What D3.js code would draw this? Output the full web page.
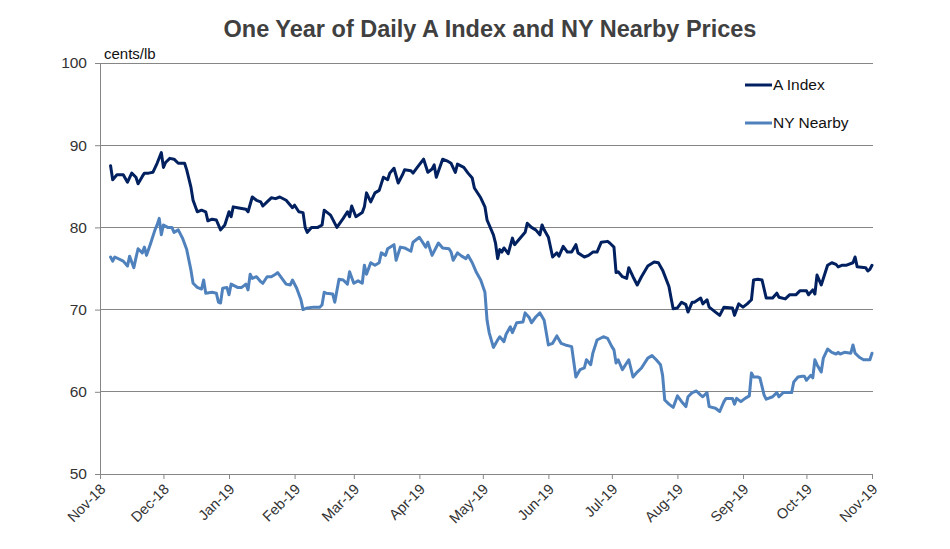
<!DOCTYPE html>
<html><head><meta charset="utf-8">
<script src="https://cdn.jsdelivr.net/npm/d3@7"></script>
<style>
body{margin:0;background:#fff;}
text{font-family:"Liberation Sans",Arial,sans-serif;}
</style></head>
<body><svg id="c" width="950" height="549"></svg>
<script>
const title = "One Year of Daily A Index and NY Nearby Prices";
const unitLabel = "cents/lb";
const seriesNames = ["A Index", "NY Nearby"];
const seriesColors = ["#002060", "#4F81BD"];
const yTicks = [50, 60, 70, 80, 90, 100];
const xTickDates = ["2018-11-01","2018-12-01","2019-01-01","2019-02-01","2019-03-01","2019-04-01","2019-05-01","2019-06-01","2019-07-01","2019-08-01","2019-09-01","2019-10-01","2019-11-01"];

const aDates = ["2018-11-06","2018-11-07","2018-11-09","2018-11-12","2018-11-14","2018-11-16","2018-11-18","2018-11-19","2018-11-21","2018-11-22","2018-11-24","2018-11-26","2018-11-28","2018-11-30","2018-12-01","2018-12-02","2018-12-04","2018-12-06","2018-12-08","2018-12-11","2018-12-12","2018-12-14","2018-12-15","2018-12-17","2018-12-19","2018-12-21","2018-12-22","2018-12-24","2018-12-26","2018-12-28","2018-12-30","2019-01-01","2019-01-02","2019-01-03","2019-01-05","2019-01-09","2019-01-10","2019-01-12","2019-01-14","2019-01-16","2019-01-17","2019-01-19","2019-01-21","2019-01-23","2019-01-25","2019-01-28","2019-01-31","2019-02-01","2019-02-03","2019-02-05","2019-02-06","2019-02-07","2019-02-09","2019-02-12","2019-02-14","2019-02-15","2019-02-18","2019-02-19","2019-02-21","2019-02-24","2019-02-26","2019-02-27","2019-02-28","2019-03-02","2019-03-05","2019-03-06","2019-03-07","2019-03-09","2019-03-11","2019-03-13","2019-03-15","2019-03-17","2019-03-18","2019-03-20","2019-03-22","2019-03-24","2019-03-25","2019-03-28","2019-03-29","2019-03-31","2019-04-03","2019-04-05","2019-04-07","2019-04-08","2019-04-09","2019-04-12","2019-04-14","2019-04-16","2019-04-18","2019-04-19","2019-04-22","2019-04-24","2019-04-26","2019-04-27","2019-04-30","2019-05-02","2019-05-03","2019-05-06","2019-05-07","2019-05-08","2019-05-09","2019-05-10","2019-05-11","2019-05-13","2019-05-15","2019-05-16","2019-05-19","2019-05-21","2019-05-22","2019-05-24","2019-05-26","2019-05-28","2019-05-29","2019-05-30","2019-06-01","2019-06-03","2019-06-05","2019-06-06","2019-06-08","2019-06-10","2019-06-12","2019-06-14","2019-06-15","2019-06-18","2019-06-20","2019-06-22","2019-06-24","2019-06-26","2019-06-29","2019-06-30","2019-07-02","2019-07-03","2019-07-04","2019-07-06","2019-07-08","2019-07-09","2019-07-11","2019-07-13","2019-07-15","2019-07-18","2019-07-21","2019-07-23","2019-07-25","2019-07-28","2019-07-29","2019-07-30","2019-08-01","2019-08-03","2019-08-05","2019-08-06","2019-08-08","2019-08-09","2019-08-12","2019-08-13","2019-08-15","2019-08-16","2019-08-19","2019-08-21","2019-08-23","2019-08-27","2019-08-28","2019-08-30","2019-09-01","2019-09-03","2019-09-05","2019-09-06","2019-09-08","2019-09-10","2019-09-12","2019-09-15","2019-09-17","2019-09-18","2019-09-21","2019-09-23","2019-09-26","2019-09-28","2019-10-01","2019-10-02","2019-10-04","2019-10-05","2019-10-06","2019-10-08","2019-10-11","2019-10-13","2019-10-15","2019-10-16","2019-10-18","2019-10-20","2019-10-23","2019-10-24","2019-10-25","2019-10-29","2019-10-30","2019-10-31","2019-11-01"];
const aValues = [87.5,85.8,86.4,86.4,85.5,86.6,86.1,85.3,86.2,86.6,86.6,86.7,87.8,89.1,87.3,87.9,88.4,88.3,87.8,87.8,87.0,84.9,83.3,81.9,82.1,81.9,80.8,81.0,80.9,79.7,80.3,81.9,81.3,82.5,82.4,82.2,81.9,83.7,83.3,83.1,82.6,83.1,83.6,83.5,83.7,83.3,82.4,82.7,81.9,81.8,80.0,79.4,80.0,80.0,80.3,82.1,81.5,81.0,80.0,81.1,81.9,81.3,82.6,81.3,81.8,82.5,84.2,83.1,84.2,84.5,86.1,85.8,86.6,87.2,85.4,86.4,87.0,86.9,86.6,87.3,88.3,86.7,87.1,87.6,86.1,88.3,88.1,87.8,86.7,87.7,87.3,86.6,86.0,84.8,83.6,82.5,80.9,79.1,78.1,76.2,77.3,77.0,77.5,76.8,78.7,77.9,78.8,79.4,80.5,80.0,79.7,79.1,80.3,79.7,78.8,76.4,76.9,76.5,77.7,77.0,77.0,77.9,76.9,76.4,76.6,77.0,77.0,78.2,78.3,78.1,77.6,74.5,74.6,74.0,73.8,75.1,74.0,73.0,74.0,75.3,75.8,75.7,74.8,72.8,71.4,70.1,70.2,70.9,70.6,69.7,70.9,70.9,71.4,70.7,71.2,70.3,69.7,69.3,70.3,70.2,69.3,70.7,70.3,70.7,71.2,73.6,73.7,73.6,71.4,71.4,72.0,71.5,71.3,71.8,71.8,72.3,72.3,71.8,72.4,71.9,74.2,73.0,75.4,75.7,75.5,75.2,75.4,75.4,75.7,76.4,75.2,75.1,74.7,74.9,75.4];

const nyDates = ["2018-11-06","2018-11-07","2018-11-08","2018-11-12","2018-11-14","2018-11-15","2018-11-17","2018-11-18","2018-11-19","2018-11-21","2018-11-22","2018-11-23","2018-11-25","2018-11-27","2018-11-28","2018-11-29","2018-11-30","2018-12-01","2018-12-03","2018-12-05","2018-12-06","2018-12-08","2018-12-10","2018-12-12","2018-12-14","2018-12-15","2018-12-17","2018-12-19","2018-12-20","2018-12-21","2018-12-24","2018-12-26","2018-12-27","2018-12-28","2018-12-29","2018-12-31","2019-01-01","2019-01-02","2019-01-05","2019-01-07","2019-01-09","2019-01-10","2019-01-11","2019-01-12","2019-01-14","2019-01-16","2019-01-17","2019-01-19","2019-01-21","2019-01-23","2019-01-24","2019-01-26","2019-01-28","2019-01-30","2019-01-31","2019-02-02","2019-02-04","2019-02-05","2019-02-07","2019-02-10","2019-02-13","2019-02-14","2019-02-15","2019-02-16","2019-02-19","2019-02-20","2019-02-22","2019-02-24","2019-02-26","2019-02-27","2019-03-01","2019-03-03","2019-03-05","2019-03-06","2019-03-07","2019-03-09","2019-03-11","2019-03-13","2019-03-14","2019-03-16","2019-03-17","2019-03-20","2019-03-21","2019-03-23","2019-03-25","2019-03-28","2019-03-29","2019-04-01","2019-04-04","2019-04-05","2019-04-07","2019-04-10","2019-04-12","2019-04-15","2019-04-16","2019-04-17","2019-04-19","2019-04-21","2019-04-23","2019-04-24","2019-04-26","2019-04-28","2019-04-30","2019-05-02","2019-05-03","2019-05-04","2019-05-06","2019-05-08","2019-05-09","2019-05-11","2019-05-12","2019-05-14","2019-05-15","2019-05-17","2019-05-20","2019-05-21","2019-05-23","2019-05-24","2019-05-26","2019-05-28","2019-05-30","2019-06-01","2019-06-03","2019-06-05","2019-06-07","2019-06-09","2019-06-12","2019-06-14","2019-06-16","2019-06-18","2019-06-19","2019-06-21","2019-06-22","2019-06-24","2019-06-27","2019-06-29","2019-07-01","2019-07-02","2019-07-03","2019-07-04","2019-07-06","2019-07-08","2019-07-09","2019-07-11","2019-07-13","2019-07-15","2019-07-18","2019-07-20","2019-07-22","2019-07-24","2019-07-25","2019-07-26","2019-07-28","2019-07-30","2019-08-01","2019-08-03","2019-08-05","2019-08-06","2019-08-08","2019-08-10","2019-08-12","2019-08-13","2019-08-15","2019-08-16","2019-08-19","2019-08-21","2019-08-23","2019-08-24","2019-08-27","2019-08-28","2019-08-29","2019-08-31","2019-09-02","2019-09-04","2019-09-05","2019-09-06","2019-09-08","2019-09-09","2019-09-11","2019-09-12","2019-09-15","2019-09-17","2019-09-18","2019-09-20","2019-09-22","2019-09-24","2019-09-25","2019-09-27","2019-09-29","2019-09-30","2019-10-01","2019-10-03","2019-10-04","2019-10-05","2019-10-06","2019-10-08","2019-10-09","2019-10-11","2019-10-13","2019-10-15","2019-10-16","2019-10-17","2019-10-19","2019-10-22","2019-10-23","2019-10-24","2019-10-26","2019-10-28","2019-10-31","2019-11-01"];
const nyValues = [76.4,75.9,76.4,75.9,75.3,76.5,75.1,76.3,77.4,76.9,77.6,76.6,78.1,79.7,80.3,81.1,79.1,80.3,80.0,80.0,79.4,79.7,78.7,77.3,74.8,73.2,72.7,72.5,73.6,72.0,72.1,72.0,70.9,70.8,72.6,72.7,71.8,73.1,72.7,72.7,73.1,72.4,74.3,73.8,74.0,73.4,73.2,74.0,74.0,74.3,74.5,73.8,73.1,73.0,73.6,72.6,71.2,70.0,70.2,70.3,70.3,70.6,72.1,72.0,71.9,70.9,73.7,73.6,73.1,74.6,73.2,73.5,73.2,75.4,74.3,75.7,75.4,75.7,76.9,76.6,77.4,77.9,76.0,77.6,77.5,77.1,78.2,78.8,77.6,78.2,76.6,78.1,77.5,77.4,77.0,76.0,76.9,76.5,76.2,76.6,75.7,74.5,73.6,72.1,68.7,67.2,65.4,66.3,66.7,66.1,67.0,67.9,67.2,68.4,68.5,69.6,69.0,68.4,69.1,69.6,68.7,65.7,65.9,66.8,65.9,65.7,65.5,61.8,62.7,62.9,63.9,63.3,64.7,66.3,66.7,66.5,65.5,65.1,63.5,63.9,62.7,63.5,63.9,61.8,62.4,62.9,64.1,64.4,63.9,63.3,62.0,59.0,58.5,58.1,59.5,58.8,58.2,59.4,59.9,60.1,59.6,59.4,59.9,58.2,58.0,57.6,58.8,59.2,59.2,58.5,59.2,58.8,59.2,59.5,62.3,61.8,61.8,61.7,59.6,59.1,59.4,59.9,59.4,59.9,59.9,59.9,61.2,61.8,61.9,61.9,61.4,62.0,61.7,63.9,63.3,62.4,64.1,65.2,64.8,64.6,64.8,64.6,64.8,64.7,65.7,64.7,64.2,63.9,63.9,64.7];

const parse = d3.timeParse("%Y-%m-%d");
const fmt = d3.timeFormat("%b-%y");
const svg = d3.select("#c");
const m = {left:100, right:873, top:63, bottom:474};
const fontFam = "Liberation Sans, Arial, sans-serif";

const x = d3.scaleTime().domain([parse(xTickDates[0]), parse(xTickDates[xTickDates.length-1])]).range([m.left, m.right-1]);
const y = d3.scaleLinear().domain([50,100]).range([m.bottom, m.top]);

// gridlines
svg.append("g").selectAll("line").data(yTicks.filter(v=>v>50)).join("line")
  .attr("x1", m.left).attr("x2", m.right)
  .attr("y1", d=>y(d)).attr("y2", d=>y(d))
  .attr("stroke", "#868686").attr("stroke-width", 1).attr("shape-rendering","crispEdges");

// y axis
const yAxis = svg.append("g").attr("transform", `translate(${m.left},0)`)
  .call(d3.axisLeft(y).tickValues(yTicks).tickSize(5).tickPadding(8));
yAxis.select(".domain").attr("stroke","#868686");
yAxis.selectAll(".tick line").attr("stroke","#868686");
yAxis.selectAll("text").attr("font-size", 15.5).attr("fill","#333").style("font-family", fontFam);

// x axis
const xAxis = svg.append("g").attr("transform", `translate(0,${m.bottom})`)
  .call(d3.axisBottom(x).tickValues(xTickDates.map(parse)).tickFormat(fmt).tickSize(5).tickSizeOuter(0));
xAxis.select(".domain").attr("stroke","#868686");
xAxis.selectAll(".tick line").attr("stroke","#868686");
xAxis.selectAll("text")
  .attr("font-size", 14.5).attr("fill","#333").style("font-family", fontFam)
  .attr("text-anchor","end").attr("dy", null).attr("y", 0).attr("x", 0)
  .attr("transform","translate(6,16) rotate(-45)");

// lines
const line = d3.line().x(d=>x(d[0])).y(d=>y(d[1]));
const series = [
  aDates.map((d,i)=>[parse(d), aValues[i]]),
  nyDates.map((d,i)=>[parse(d), nyValues[i]])
];
series.slice().reverse().forEach((s,ri)=>{
  const i = series.length-1-ri;
  svg.append("path").datum(s).attr("d", line)
    .attr("fill","none").attr("stroke", seriesColors[i]).attr("stroke-width", 3)
    .attr("stroke-linejoin","round").attr("stroke-linecap","round");
});

// title
svg.append("text").attr("x", 490).attr("y", 37).attr("text-anchor","middle")
  .attr("font-size", 23.5).attr("font-weight","bold").attr("fill","#404040").text(title);
svg.append("text").attr("x", 104).attr("y", 59).attr("font-size", 15).attr("fill","#111").text(unitLabel);

// legend
const leg = svg.append("g");
seriesNames.forEach((n,i)=>{
  const ly = 85 + i*38;
  leg.append("line").attr("x1", 745).attr("x2", 772).attr("y1", ly).attr("y2", ly)
    .attr("stroke", seriesColors[i]).attr("stroke-width", 3);
  leg.append("text").attr("x", 773).attr("y", ly+5).attr("font-size", 15.5).attr("fill","#111").text(n);
});
</script></body></html>
